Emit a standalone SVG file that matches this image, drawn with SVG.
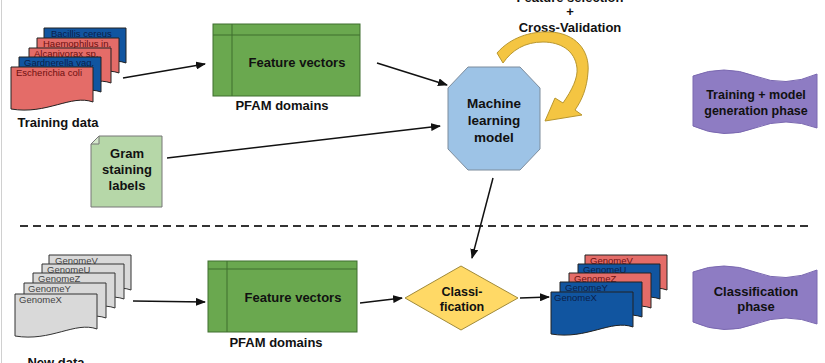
<svg xmlns="http://www.w3.org/2000/svg" xmlns:xlink="http://www.w3.org/1999/xlink" width="825" height="363" viewBox="0 0 825 363">
  <style>
    text { font-family: "Liberation Sans", Arial, sans-serif; }
    .lbl { font-weight: bold; font-size: 13px; fill: #111; text-anchor: middle; }
    .doc-t { font-size: 9.5px; }
    .red { fill: #e46c68; stroke: #222; stroke-width: 1; }
    .blue { fill: #1155a0; stroke: #222; stroke-width: 1; }
    .gray { fill: #d9d9d9; stroke: #333; stroke-width: 1; }
    .rt { fill: #6e1010; }
    .bt { fill: #0b1f4a; }
    .gt { fill: #444; }
    .fv { fill: #6aa84f; stroke: #3f6e2f; stroke-width: 1; }
    .fvl { stroke: #3f6e2f; stroke-width: 1; }
    .tape { fill: #8e7cc3; stroke: #7a68b0; stroke-width: 1; }
    .edge { stroke: #111; stroke-width: 1.5; fill: none; marker-end: url(#arrow); }
  </style>
  <defs>
    <marker id="arrow" markerUnits="userSpaceOnUse" markerWidth="10" markerHeight="8" viewBox="0 0 10 8" refX="9" refY="4" orient="auto">
      <path d="M0,0 L10,4 L0,8 z" fill="#111"/>
    </marker>
    <!-- flowchart document shape with wavy bottom -->
    <path id="doc" d="M0,0 H82 V35 C60,27 36,48 0,42 Z"/>
    <!-- tape / banner shape -->
    <path id="tape" d="M0,6 Q31,-6 62,6 Q93,18 124,4 V58 Q93,46 62,58 Q31,70 0,56 Z"/>
  </defs>

  <rect width="825" height="363" fill="#ffffff"/>
  <line x1="1.5" y1="0" x2="1.5" y2="363" stroke="#d0d0d0" stroke-width="1"/>

  <!-- phase separator -->
  <line x1="20" y1="226" x2="812" y2="226" stroke="#333" stroke-width="2" stroke-dasharray="8,5"/>

  <!-- training genomes -->
  <g id="training-data">
    <g transform="translate(44,28)"><use xlink:href="#doc" class="blue"/><text class="doc-t bt" x="7" y="9">Bacillis cereus</text></g>
    <g transform="translate(37,38)"><use xlink:href="#doc" class="red"/><text class="doc-t rt" x="6" y="9">Haemophilus in.</text></g>
    <g transform="translate(29,48)"><use xlink:href="#doc" class="red"/><text class="doc-t rt" x="5" y="9">Alcanivorax sp.</text></g>
    <g transform="translate(19,57)"><use xlink:href="#doc" class="blue"/><text class="doc-t bt" x="5" y="9">Gardnerella vag.</text></g>
    <g transform="translate(11,67)"><use xlink:href="#doc" class="red"/><text class="doc-t rt" x="5" y="9">Escherichia coli</text></g>
    <text class="lbl" x="58" y="127">Training data</text>
  </g>

  <!-- feature vectors (training) -->
  <g id="fv-train">
    <rect class="fv" x="213" y="24" width="147" height="72"/>
    <line class="fvl" x1="213" y1="35" x2="360" y2="35"/>
    <line class="fvl" x1="232" y1="24" x2="232" y2="96"/>
    <text class="lbl" x="297" y="67">Feature vectors</text>
    <text class="lbl" x="282" y="110">PFAM domains</text>
  </g>

  <!-- gram labels -->
  <g id="gram-labels">
    <path d="M99,136 H162 V207 H91 V144 Z" fill="#b6d7a8" stroke="#777" stroke-width="1"/>
    <path d="M91,144 L99,144 L99,136 Z" fill="#d4e8cb" stroke="#777" stroke-width="1"/>
    <text class="lbl" x="127" y="158">Gram</text>
    <text class="lbl" x="127" y="174">staining</text>
    <text class="lbl" x="127" y="190">labels</text>
  </g>

  <!-- machine learning model -->
  <g id="ml-model">
    <polygon points="468,67 520,67 540,88 540,149 520,170 468,170 448,149 448,88" fill="#9dc3e6" stroke="#7d8c9c" stroke-width="1"/>
    <text class="lbl" x="494" y="108" style="font-size:13.5px">Machine</text>
    <text class="lbl" x="494" y="125" style="font-size:13.5px">learning</text>
    <text class="lbl" x="494" y="142" style="font-size:13.5px">model</text>
  </g>

  <!-- feature selection loop -->
  <g id="feature-selection">
    <text class="lbl" x="570" y="2">Feature selection</text>
    <text class="lbl" x="570" y="16">+</text>
    <text class="lbl" x="570" y="32">Cross-Validation</text>
    <path d="M497,53 C510,38 530,31 550,32 C575,33 590,50 588,72 C587,88 582,100 575,110 L582,115 L545,121 L555,98 L563,103 C572,90 578,78 577,68 C575,50 560,42 543,42 C525,42 512,50 503,63 Z" fill="#f4c542" stroke="#b8962e" stroke-width="1"/>
  </g>

  <!-- phase banners -->
  <g id="phase-training">
    <use xlink:href="#tape" class="tape" transform="translate(693,70)"/>
    <text class="lbl" x="756" y="99" style="font-size:12.5px">Training + model</text>
    <text class="lbl" x="756" y="115" style="font-size:12.5px">generation phase</text>
  </g>
  <g id="phase-classification">
    <use xlink:href="#tape" class="tape" transform="translate(693,266)"/>
    <text class="lbl" x="756" y="296">Classification</text>
    <text class="lbl" x="756" y="311">phase</text>
  </g>

  <!-- new genomes -->
  <g id="new-data">
    <g transform="translate(49,255)"><use xlink:href="#doc" class="gray"/><text class="doc-t gt" x="6" y="9">GenomeV</text></g>
    <g transform="translate(42,264)"><use xlink:href="#doc" class="gray"/><text class="doc-t gt" x="5" y="9">GenomeU</text></g>
    <g transform="translate(33,273)"><use xlink:href="#doc" class="gray"/><text class="doc-t gt" x="5" y="9">GenomeZ</text></g>
    <g transform="translate(24,283)"><use xlink:href="#doc" class="gray"/><text class="doc-t gt" x="4" y="9">GenomeY</text></g>
    <g transform="translate(15,294)"><use xlink:href="#doc" class="gray"/><text class="doc-t gt" x="4" y="9">GenomeX</text></g>
    <text class="lbl" x="56" y="367">New data</text>
  </g>

  <!-- feature vectors (new data) -->
  <g id="fv-new">
    <rect class="fv" x="208" y="261" width="149" height="71"/>
    <line class="fvl" x1="208" y1="269" x2="357" y2="269"/>
    <line class="fvl" x1="227" y1="261" x2="227" y2="332"/>
    <text class="lbl" x="293" y="302">Feature vectors</text>
    <text class="lbl" x="276" y="347">PFAM domains</text>
  </g>

  <!-- classification step -->
  <g id="classification">
    <polygon points="405,298 461,266 518,298 461,330" fill="#ffd966" stroke="#a08a3a" stroke-width="1"/>
    <text class="lbl" x="462" y="296" style="font-size:12.5px">Classi-</text>
    <text class="lbl" x="462" y="311" style="font-size:12.5px">fication</text>
  </g>

  <!-- classified genomes -->
  <g id="classified">
    <g transform="translate(585,255)"><use xlink:href="#doc" class="red"/><text class="doc-t rt" x="5" y="9">GenomeV</text></g>
    <g transform="translate(578,264)"><use xlink:href="#doc" class="blue"/><text class="doc-t bt" x="5" y="9">GenomeU</text></g>
    <g transform="translate(569,273)"><use xlink:href="#doc" class="red"/><text class="doc-t rt" x="5" y="9">GenomeZ</text></g>
    <g transform="translate(560,282)"><use xlink:href="#doc" class="blue"/><text class="doc-t bt" x="5" y="9">GenomeY</text></g>
    <g transform="translate(551,292)"><use xlink:href="#doc" class="blue"/><text class="doc-t bt" x="3" y="9">GenomeX</text></g>
  </g>

  <!-- connectors -->
  <g id="connectors">
    <line class="edge" x1="123" y1="78" x2="205" y2="64"/>
    <line class="edge" x1="377" y1="63" x2="447" y2="85"/>
    <line class="edge" x1="167" y1="158" x2="440" y2="126"/>
    <line class="edge" x1="493" y1="178" x2="472" y2="258"/>
    <line class="edge" x1="133" y1="301" x2="205" y2="302"/>
    <line class="edge" x1="360" y1="303" x2="402" y2="298"/>
    <line class="edge" x1="520" y1="298" x2="549" y2="297"/>
  </g>
</svg>
